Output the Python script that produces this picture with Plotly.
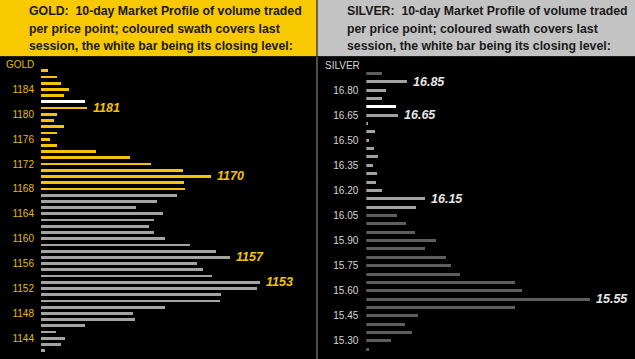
import plotly.graph_objects as go

W, H = 635, 359

# ---------------- data ----------------
gold_prices = [1187, 1186, 1185, 1184, 1183, 1182, 1181, 1180, 1179, 1178, 1177, 1176,
               1175, 1174, 1173, 1172, 1171, 1170, 1169, 1168, 1167, 1166, 1165, 1164,
               1163, 1162, 1161, 1160, 1159, 1158, 1157, 1156, 1155, 1154, 1153, 1152,
               1151, 1150, 1149, 1148, 1147, 1146, 1145, 1144, 1143, 1142]
gold_volume = [6.7, 16.3, 20, 27.7, 23, 44, 46.3, 15.7, 12.7, 23, 16.3, 9,
               16.3, 55, 88.7, 109.7, 141.7, 170, 142.7, 144.3, 135.7, 116, 95.3, 122.3,
               113, 107.7, 113, 123.7, 149, 175.3, 189.3, 156.3, 161.7, 171.3, 218.7, 215.7,
               179.7, 178.7, 123.7, 92.3, 93.7, 43.7, 14.7, 24, 20, 3.7]
gold_session_high = 1187
gold_session_low = 1168
gold_close = 1182
gold_labels = [1181, 1170, 1157, 1153]
gold_ticks = [1144, 1148, 1152, 1156, 1160, 1164, 1168, 1172, 1176, 1180, 1184]

silver_prices = [16.90, 16.85, 16.80, 16.75, 16.70, 16.65, 16.60, 16.55, 16.50, 16.45,
                 16.40, 16.35, 16.30, 16.25, 16.20, 16.15, 16.10, 16.05, 16.00, 15.95,
                 15.90, 15.85, 15.80, 15.75, 15.70, 15.65, 15.60, 15.55, 15.50, 15.45,
                 15.40, 15.35, 15.30, 15.25]
silver_volume = [16, 41, 20, 15.3, 29.7, 31.3, 2, 9, 3, 7.3,
                 11.7, 7, 11, 10, 15.3, 59, 49.5, 30.3, 40, 48.3,
                 70, 58.7, 80, 85, 93.3, 149, 155.3, 223.3, 148.3, 52,
                 39, 45.3, 24.7, 2.3]
silver_session_high = 16.85
silver_session_low = 16.10
silver_close = 16.70
silver_labels = [16.85, 16.65, 16.15, 15.55]
silver_ticks = [15.30, 15.45, 15.60, 15.75, 15.90, 16.05, 16.20, 16.35, 16.50, 16.65, 16.80]

gold_title = ["GOLD:  10-day Market Profile of volume traded",
              "per price point; coloured swath covers last",
              "session, the white bar being its closing level:"]
silver_title = ["SILVER:  10-day Market Profile of volume traded",
                "per price point; coloured swath covers last",
                "session, the white bar being its closing level:"]

# ---------------- styles ----------------
GOLD = "#F5C400"
GOLD_TXT = "#E8BC00"
GOLD_OLD = "#A3A3A3"
SIL_NEW = "#A2A2A2"
SIL_OLD = "#5E5E5E"
WHITE = "#FFFFFF"


def colors(prices, lo, hi, close, new_c, old_c):
    out = []
    for p in prices:
        if abs(p - close) < 1e-9:
            out.append(WHITE)
        elif lo - 1e-9 <= p <= hi + 1e-9:
            out.append(new_c)
        else:
            out.append(old_c)
    return out


def px_x(x):
    return x / W


def px_y(y):
    return 1 - y / H


fig = go.Figure()
fig.add_trace(go.Bar(
    x=gold_volume, y=gold_prices, orientation="h", width=0.45,
    marker=dict(color=colors(gold_prices, gold_session_low, gold_session_high, gold_close, GOLD, GOLD_OLD),
                line=dict(width=0)),
    xaxis="x", yaxis="y", hoverinfo="skip"))
fig.add_trace(go.Bar(
    x=silver_volume, y=silver_prices, orientation="h", width=0.018,
    marker=dict(color=colors(silver_prices, silver_session_low, silver_session_high, silver_close, SIL_NEW, SIL_OLD),
                line=dict(width=0)),
    xaxis="x2", yaxis="y2", hoverinfo="skip"))

tickfont_family = "Liberation Sans, Arial, sans-serif"
fig.update_layout(
    width=W, height=H, margin=dict(l=0, r=0, t=0, b=0),
    paper_bgcolor="#000000", plot_bgcolor="#000000",
    showlegend=False, bargap=0,
    xaxis=dict(domain=[px_x(41), px_x(316)], range=[0, 275], visible=False, fixedrange=True),
    yaxis=dict(domain=[0, px_y(57)], range=[1140.67, 1189.2], anchor="x",
               tickvals=gold_ticks, ticktext=[str(t) for t in gold_ticks],
               tickfont=dict(family=tickfont_family, size=10, color=GOLD_TXT),
               showgrid=False, zeroline=False, showline=False, ticks="",
               ticklabelstandoff=6, fixedrange=True),
    xaxis2=dict(domain=[px_x(366.3), 1], range=[0, 268.7], visible=False, fixedrange=True),
    yaxis2=dict(domain=[0, px_y(57)], range=[15.192, 16.9975], anchor="x2",
                tickvals=silver_ticks, ticktext=["%.2f" % t for t in silver_ticks],
                tickfont=dict(family=tickfont_family, size=10, color="#D6D6D6"),
                showgrid=False, zeroline=False, showline=False, ticks="",
                ticklabelstandoff=7, fixedrange=True),
)

shapes = [
    dict(type="rect", xref="paper", yref="paper", x0=0, x1=px_x(316.5), y0=px_y(56), y1=1,
         fillcolor="#F8C800", line=dict(width=0), layer="below"),
    dict(type="rect", xref="paper", yref="paper", x0=px_x(317.5), x1=1, y0=px_y(56), y1=1,
         fillcolor="#C3C3C3", line=dict(width=0), layer="below"),
    dict(type="line", xref="paper", yref="paper", x0=px_x(317), x1=px_x(317), y0=0, y1=px_y(56),
         line=dict(color="#9A9A9A", width=1)),
    dict(type="line", xref="paper", yref="paper", x0=0, x1=1, y0=px_y(56.5), y1=px_y(56.5),
         line=dict(color="#202020", width=1)),
]

ann = []
head_font = dict(family="Liberation Sans, Arial, sans-serif", size=12.3, color="#1A1A1A")
line_y = [11, 28.5, 46]
for i, t in enumerate(gold_title):
    ann.append(dict(text="<b>%s</b>" % t, xref="paper", yref="paper", x=px_x(26.5), y=px_y(line_y[i]),
                    xanchor="left", yanchor="middle", showarrow=False, font=head_font))
for i, t in enumerate(silver_title):
    ann.append(dict(text="<b>%s</b>" % t, xref="paper", yref="paper", x=px_x(344.5), y=px_y(line_y[i]),
                    xanchor="left", yanchor="middle", showarrow=False, font=head_font))

ann.append(dict(text="GOLD", xref="paper", yref="paper", x=px_x(4), y=px_y(64.5),
                xanchor="left", yanchor="middle", showarrow=False,
                font=dict(family=tickfont_family, size=10, color=GOLD_TXT)))
ann.append(dict(text="SILVER", xref="paper", yref="paper", x=px_x(322.5), y=px_y(65.5),
                xanchor="left", yanchor="middle", showarrow=False,
                font=dict(family=tickfont_family, size=10, color="#D6D6D6")))

lab_family = "Liberation Sans, Arial, sans-serif"
for p in gold_labels:
    v = gold_volume[gold_prices.index(p)]
    ann.append(dict(text="<b><i>%d</i></b>" % p, x=v, y=p, xref="x", yref="y",
                    xanchor="left", yanchor="middle", xshift=4, showarrow=False,
                    font=dict(family=lab_family, size=12.5, color="#F5C400")))
for p in silver_labels:
    v = silver_volume[silver_prices.index(p)]
    ann.append(dict(text="<b><i>%.2f</i></b>" % p, x=v, y=p, xref="x2", yref="y2",
                    xanchor="left", yanchor="middle", xshift=4, showarrow=False,
                    font=dict(family=lab_family, size=12.5, color="#E6E6E6")))

fig.update_layout(shapes=shapes, annotations=ann)
fig.write_html("out.html", config={"displayModeBar": False, "staticPlot": True},
               post_script="document.body.style.margin='0';document.body.style.overflow='hidden';")
